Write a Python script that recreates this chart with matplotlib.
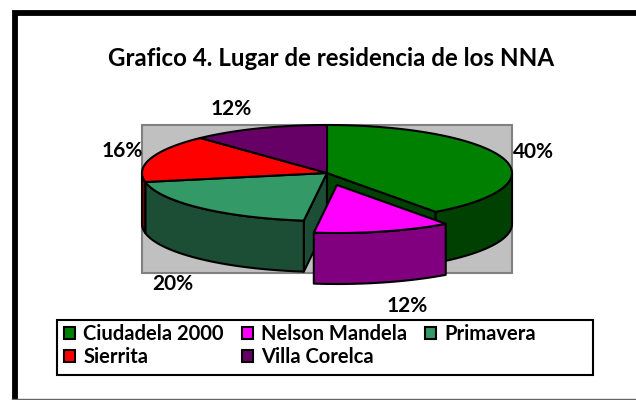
import numpy as np
import matplotlib
import matplotlib.pyplot as plt
from matplotlib.patches import Polygon, Rectangle

matplotlib.use("Agg")

plt.rcParams["font.family"] = ["Lato", "DejaVu Sans"]

title = "Grafico 4. Lugar de residencia de los NNA"
places = ["Ciudadela 2000", "Nelson Mandela", "Primavera", "Sierrita", "Villa Corelca"]
shares = [40, 12, 20, 16, 12]
top_colors = ["#008000", "#FF00FF", "#339966", "#FF0000", "#660066"]
side_colors = ["#004000", "#800080", "#1C4D35", "#800000", "#330033"]
label_pos = [(533, 152), (407, 306), (173, 284), (122, 151), (231, 109)]

CX, CY = 327, 173
RX, RY = 185, 48
DEPTH = 51
LW = 1.5
# only the Nelson Mandela slice is pulled out of the pie
offsets = [(0, 0), (10, 12), (0, 0), (0, 0), (0, 0)]


def rim(t0, t1, ox, oy, dy=0):
    t = np.radians(np.linspace(t0, t1, 80))
    return np.column_stack([CX + ox + RX * np.sin(t), CY + oy + dy - RY * np.cos(t)])


def poly(ax, pts, color, z):
    ax.add_patch(Polygon(pts, closed=True, facecolor=color, edgecolor="black",
                         linewidth=LW, joinstyle="round", zorder=z))


fig = plt.figure(figsize=(6.36, 4), dpi=100)
ax = fig.add_axes([0, 0, 1, 1])
ax.set_xlim(0, 636)
ax.set_ylim(400, 0)
ax.axis("off")

# outer frame of the pasted picture: heavy top and left, thin grey bottom
ax.plot([15, 15, 636], [398.5, 12.5, 12.5], color="black", linewidth=4.2,
        solid_joinstyle="miter", solid_capstyle="butt", zorder=1)
ax.plot([12, 636], [398.5, 398.5], color="#666666", linewidth=1, zorder=1)

# grey plot area
ax.add_patch(Rectangle((142, 124.5), 370, 148, facecolor="#C0C0C0", edgecolor="#808080", linewidth=1.5, zorder=1))

edges = np.cumsum([0] + shares) / sum(shares) * 360

# cut faces only show next to the pulled out slice
for i in (2, 0):
    t = edges[i] if i == 2 else edges[i + 1]
    e = rim(t, t, 0, 0)[0]
    poly(ax, [(CX, CY), e, e + (0, DEPTH), (CX, CY + DEPTH)], side_colors[i], 2)

# side walls, tops after them
for i, (a, b) in enumerate(zip(edges[:-1], edges[1:])):
    ox, oy = offsets[i]
    lo, hi = max(a, 90), min(b, 270)
    if lo < hi:
        poly(ax, np.vstack([rim(lo, hi, ox, oy), rim(hi, lo, ox, oy, DEPTH)]), side_colors[i], 6 if ox else 3)

for i, (a, b) in enumerate(zip(edges[:-1], edges[1:])):
    ox, oy = offsets[i]
    poly(ax, np.vstack([[(CX + ox, CY + oy)], rim(a, b, ox, oy)]), top_colors[i], 7 if ox else 4)

for share, (x, y) in zip(shares, label_pos):
    ax.text(x, y, f"{share}%", ha="center", va="center", fontsize=15, fontweight="bold", zorder=9)

ax.text(331, 58, title, ha="center", va="center", fontsize=17.4, fontweight="bold", zorder=9)

# legend box, entries are given column by column to read row by row
ax.add_patch(Rectangle((56.5, 319.5), 536, 55.5, facecolor="white", edgecolor="black", linewidth=1.5, zorder=8))
order = [0, 3, 1, 4, 2]
handles = [Rectangle((0, 0), 1, 1, facecolor=top_colors[i], edgecolor="black", linewidth=1.5) for i in order]
leg = ax.legend(handles, [places[i] for i in order], ncol=3, frameon=False,
                loc="upper left", bbox_to_anchor=(64 / 636, 1 - 324 / 400),
                prop={"size": 14.5, "weight": "bold"}, handlelength=0.55, handleheight=0.6,
                handletextpad=0.4, columnspacing=0.9, labelspacing=0.15, borderpad=0, borderaxespad=0)
leg.set_zorder(9)

fig.savefig("out.png", dpi=100)
plt.close(fig)
